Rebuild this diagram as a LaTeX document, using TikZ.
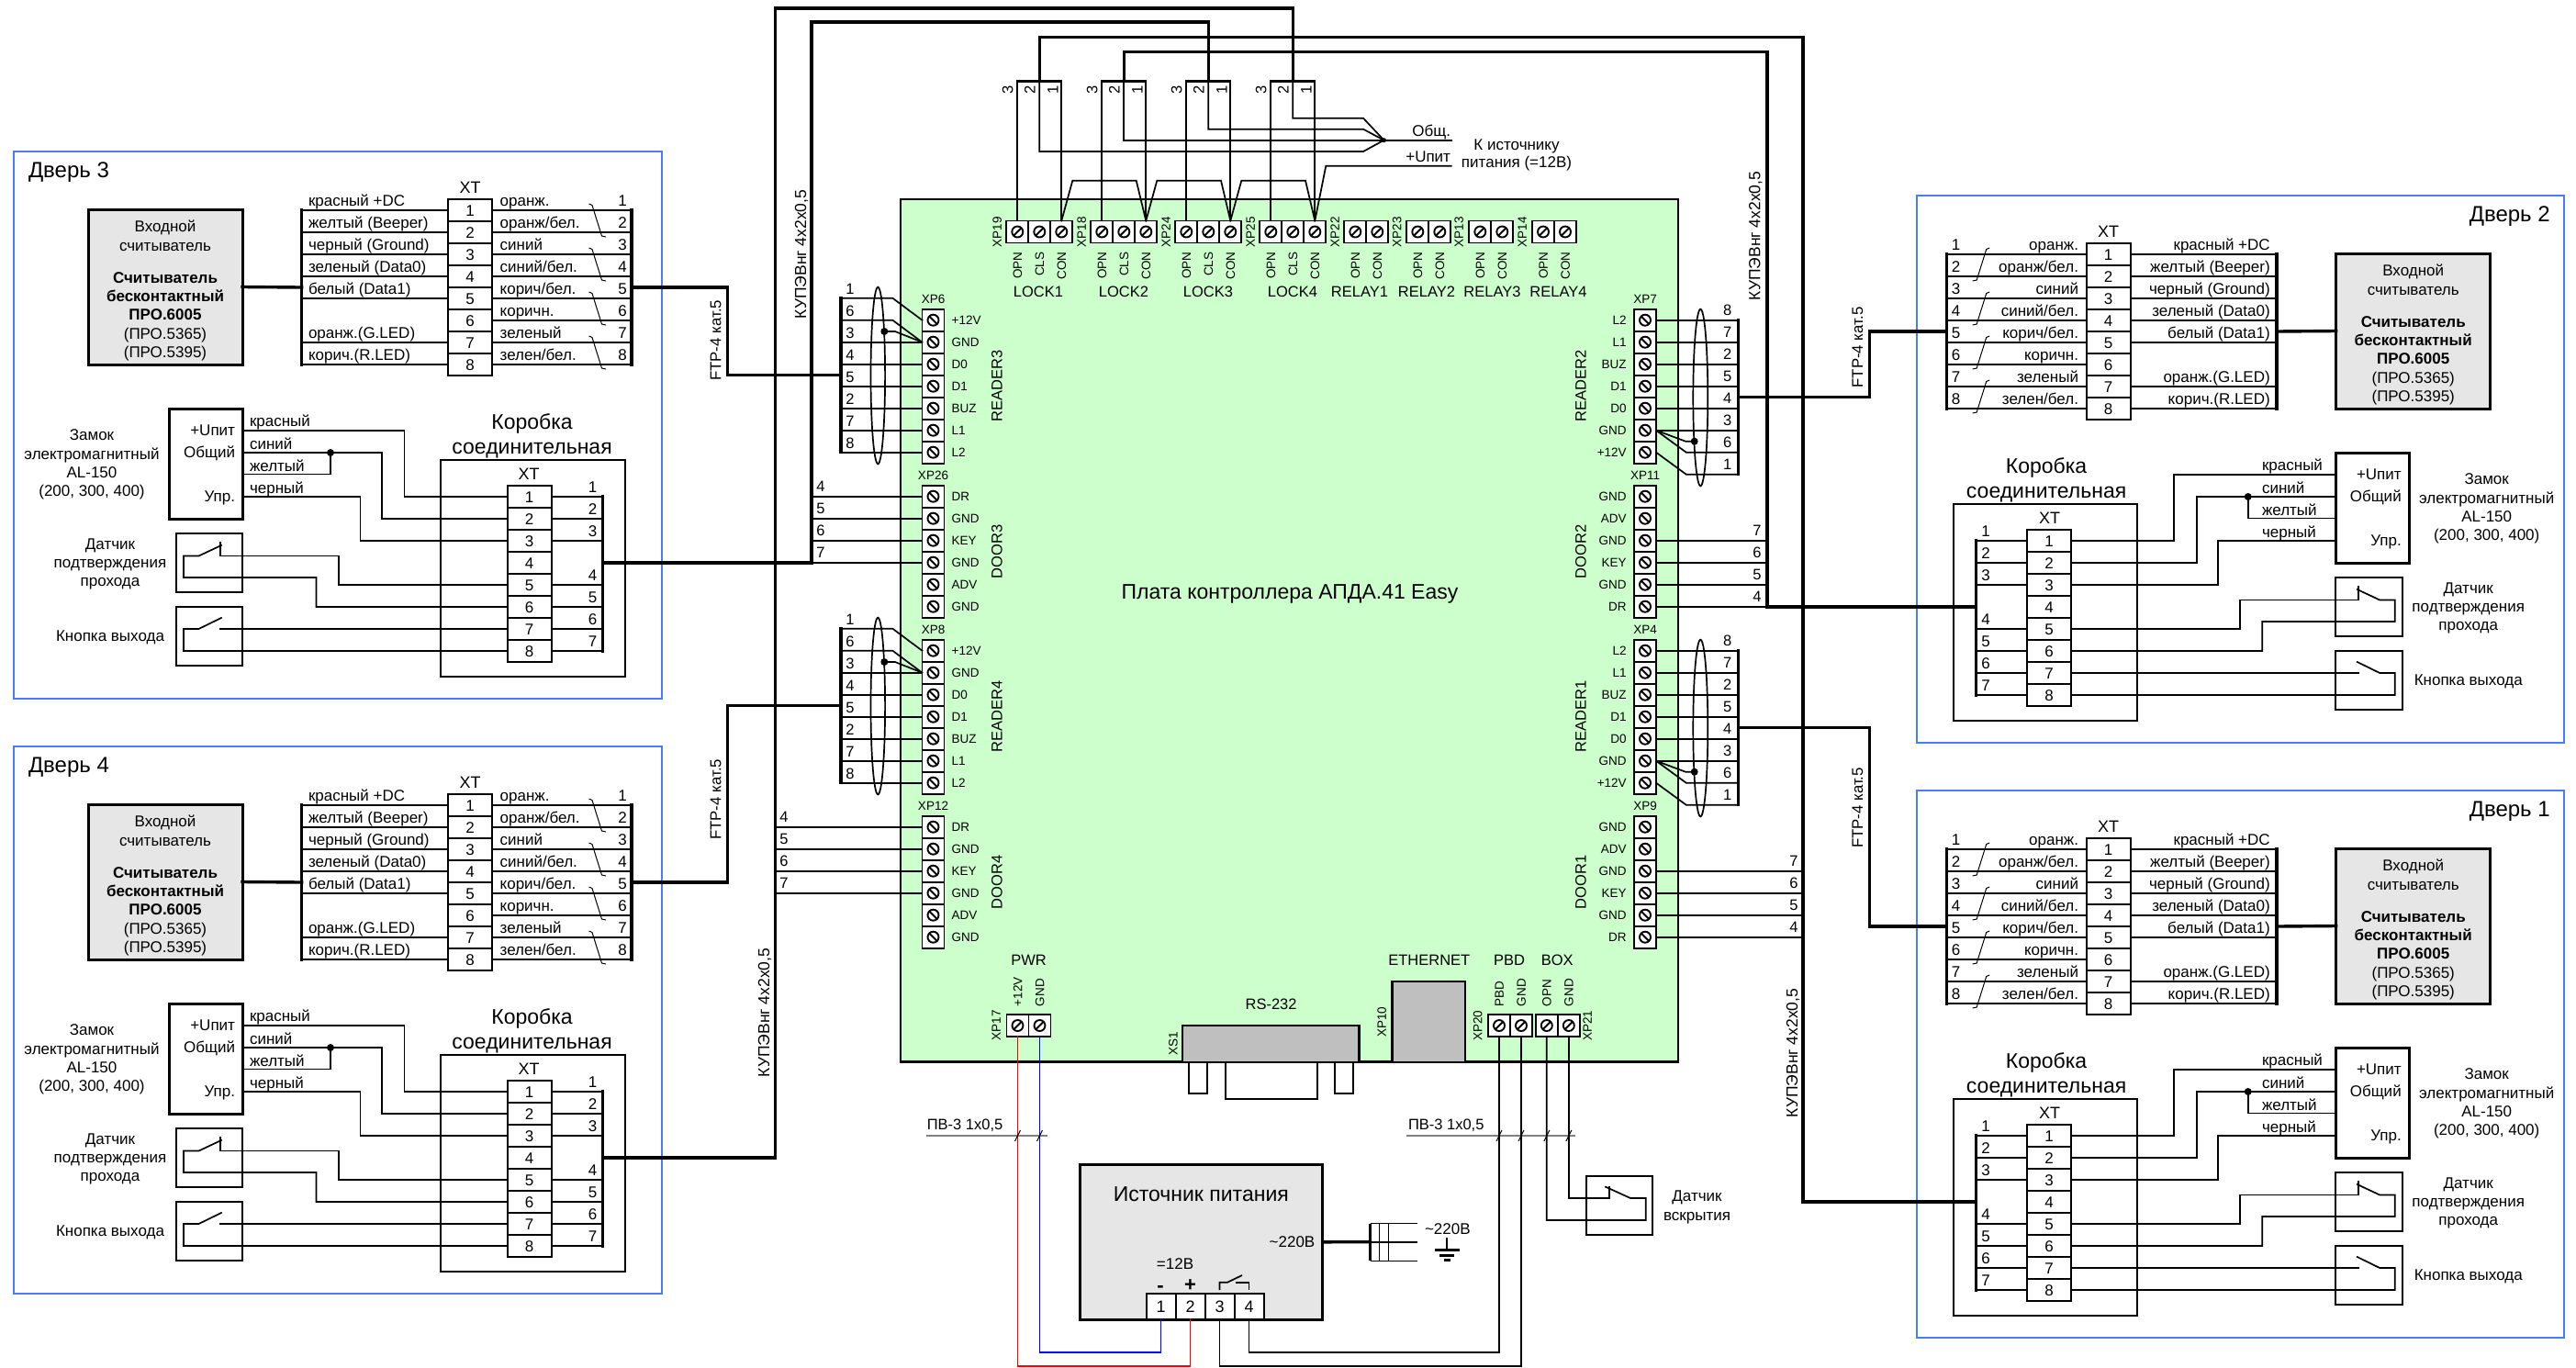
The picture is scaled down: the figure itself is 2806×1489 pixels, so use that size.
\documentclass[tikz,border=0pt]{standalone}
\usepackage{fontspec}
\setmainfont{Liberation Sans}
\definecolor{boardg}{HTML}{CCFFCC}
\definecolor{boxg}{HTML}{E6E6E6}
\definecolor{compg}{HTML}{BFBFBF}
\definecolor{frameb}{HTML}{4A7BFF}
\newcounter{nn}
\tikzset{
 autoname/.code={\stepcounter{nn}\tikzset{name=tx\arabic{nn}}},
 fs/.style={autoname,font=\fontsize{#1pt}{#1pt}\selectfont,inner sep=0pt,outer sep=0pt,text height={0.72*#1pt},text depth=0pt},
 wire/.style={line width=1.7pt,line join=miter,line cap=rect},
 cable/.style={line width=3.4pt,line join=miter,line cap=rect},
 twist/.style={line width=1pt},
 doorframe/.style={draw=frameb,line width=2pt},
 rdbox/.style={draw,line width=3pt,fill=boxg,inner sep=0pt,outer sep=0pt},
 plainbox/.style={draw,line width=3pt,inner sep=0pt,outer sep=0pt},
 thinbox/.style={draw,line width=2pt,inner sep=0pt,outer sep=0pt},
 xtcell/.style={draw,line width=1.8pt,fill=white,minimum width=48pt,minimum height=24pt,inner sep=0pt,outer sep=0pt,font=\fontsize{17pt}{17pt}\selectfont,text height=12.2pt,text depth=0pt},
 cellv/.style={draw,line width=1.8pt,fill=white,minimum size=24pt,inner sep=0pt,outer sep=0pt,
   path picture={\draw[line width=1.9pt] (path picture bounding box.center) circle (6);
     \draw[line width=1.9pt] ([shift={(-4.3pt,4.3pt)}]path picture bounding box.center) -- ([shift={(4.3pt,-4.3pt)}]path picture bounding box.center);}},
 cellh/.style={draw,line width=1.8pt,fill=white,minimum size=24pt,inner sep=0pt,outer sep=0pt,
   path picture={\draw[line width=1.9pt] (path picture bounding box.center) circle (6);
     \draw[line width=1.9pt] ([shift={(-4.3pt,-4.3pt)}]path picture bounding box.center) -- ([shift={(4.3pt,4.3pt)}]path picture bounding box.center);}},
 dot/.style={circle,fill=black,inner sep=0pt,minimum size=8pt},
 psucell/.style={draw,line width=1.8pt,fill=white,minimum width=32pt,minimum height=28pt,inner sep=0pt,outer sep=0pt,font=\fontsize{18pt}{18pt}\selectfont,text height=13pt,text depth=0pt},
 bareline/.style={draw=gray,line width=1.6pt},
 tick/.style={line width=1pt},
 compbox/.style={draw,line width=2.5pt,fill=compg,inner sep=0pt,outer sep=0pt},
}
% vertical terminal: name, xc, y of first cell, labels, label anchor, label x
\newcommand\vterm[6]{%
 \foreach \lab [count=\i] in {#4} {
  \node[cellv] (#1-\i) at (#2,{#3+24*(\i-1)}) {};
  \node[fs=13.5,anchor=#5] at (#6,{#3+24*(\i-1)}) {\lab};
 }}
% horizontal terminal: name, x of first cell, labels
\newcommand\hterm[3]{%
 \foreach \lab [count=\i] in {#3} {
  \node[cellh] (#1-\i) at ({#2+24*(\i-1)},252.5) {};
  \node[fs=13.5,rotate=90,anchor=east] at ({#2+24*(\i-1)},274.5) {\lab};
 }}
% reader wiring on the left side of the board: name, y offset
\newcommand\readerL[2]{%
 \begin{scope}[shift={(0,#2)}]
 \vterm{#1}{1016.5}{348.7}{+12V,GND,D0,D1,BUZ,L1,L2}{west}{1036.7}
 \draw[cable] (916,324.7) -- (916,492.7);
 \coordinate (#1bus) at (916,408.7);
 \draw[wire] (916,324.7) -- (972.3,324.7) -- (#1-1.west);
 \draw[wire] (916,348.7) -- (972.3,348.7) -- (#1-2.west);
 \draw[wire] (916,372.7) -- (#1-2.west);
 \draw[wire] (#1-3.west) -- (916,396.7);
 \draw[wire] (#1-4.west) -- (916,420.7);
 \draw[wire] (#1-5.west) -- (916,444.7);
 \draw[wire] (#1-6.west) -- (916,468.7);
 \draw[wire] (#1-7.west) -- (916,492.7);
 \node[dot] (#1-d) at (963.3,361) {};
 \draw[line width=1.7pt] (#1-d.center) -- (975,361) -- (#1-2.west);
 \draw[line width=1.7pt] (956.3,409) ellipse (7.8 and 96.3);
 \foreach \t [count=\i] in {1,6,3,4,5,2,7,8} {\node[fs=16.5] at (926,{315+24*(\i-1)}) {\t};}
 \end{scope}}
\newcommand\readerR[2]{%
 \begin{scope}[shift={(0,#2)}]
 \vterm{#1}{1792}{348.7}{L2,L1,BUZ,D1,D0,GND,+12V}{east}{1771.7}
 \draw[cable] (1893.3,348.7) -- (1893.3,516.7);
 \coordinate (#1bus) at (1893.3,432.7);
 \draw[wire] (#1-1.east) -- (1893.3,348.7);
 \draw[wire] (#1-2.east) -- (1893.3,372.7);
 \draw[wire] (#1-3.east) -- (1893.3,396.7);
 \draw[wire] (#1-4.east) -- (1893.3,420.7);
 \draw[wire] (#1-5.east) -- (1893.3,444.7);
 \draw[wire] (#1-6.east) -- (1893.3,468.7);
 \draw[wire] (#1-6.east) -- (1836.7,492.7) -- (1893.3,492.7);
 \draw[wire] (#1-7.east) -- (1836.7,516.7) -- (1893.3,516.7);
 \node[dot] (#1-d) at (1845.7,480.7) {};
 \draw[line width=1.7pt] (#1-6.east) -- (1836,480.7) -- (#1-d.center);
 \draw[line width=1.7pt] (1852.3,433) ellipse (8 and 96.3);
 \foreach \t [count=\i] in {8,7,2,5,4,3,6,1} {\node[fs=16.5] at (1881.7,{338+24*(\i-1)}) {\t};}
 \end{scope}}
% door block: prefix, title, ox, oy, xscale, near anchor, far anchor, lock text x, wire label x
\newcommand\doorblock[9]{%
 \begin{scope}[shift={(#3,#4)},xscale=#5]
 \draw[doorframe] (15.4,165) rectangle (720.7,761);
 \node[fs=24,anchor=#6] at (31,185) {#2};
 \node[rdbox,minimum width=168pt,minimum height=169pt] (#1rd) at (180,312.5) {};
 \foreach \t/\y in {Входной/246.4,считыватель/267,{(ПРО.5365)}/363,{(ПРО.5395)}/383} {\node[fs=17] at (180,\y) {\t};}
 \foreach \t/\y in {Считыватель/302.8,бесконтактный/322.6,ПРО.6005/342} {\node[fs=17,font=\fontsize{17pt}{17pt}\selectfont\bfseries] at (180,\y) {\t};}
 \node[fs=18] at (512,204) {XT};
 \foreach \i in {1,...,8} {\node[xtcell] (#1a\i) at (512,{229+24*(\i-1)}) {\i};}
 \foreach \i in {1,2,3,4,5,7,8} {\draw[wire] (#1a\i.#6) -- (328.7,{229+24*(\i-1)});}
 \foreach \i in {1,...,8} {\draw[wire] (#1a\i.#7) -- (688,{229+24*(\i-1)});}
 \draw[cable] (328.7,229) -- (328.7,397);
 \draw[cable] (688,229) -- (688,397);
 \coordinate (#1lb) at (328.7,313);
 \coordinate (#1rb) at (688,313);
 \draw[cable] (#1rd.#7) -- (#1lb);
 \foreach \t [count=\i] in {красный +DC,желтый (Beeper),черный (Ground),зеленый (Data0),белый (Data1)} {\node[fs=17,anchor=#6] at (336,{218+24*(\i-1)}) {\t};}
 \node[fs=17,anchor=#6] at (336,362) {оранж.(G.LED)};
 \node[fs=17,anchor=#6] at (336,386) {корич.(R.LED)};
 \foreach \t [count=\i] in {оранж.,оранж/бел.,синий,синий/бел.,корич/бел.,коричн.,зеленый,зелен/бел.} {\node[fs=17,anchor=#6] at (544.7,{218+24*(\i-1)}) {\t};
   \node[fs=17] at (678,{218+24*(\i-1)}) {\i};}
 \foreach \y in {222,270,318,366} {\draw[twist] (641.5,\y) -- (645,\y+1.5) -- (655.5,\y+35) -- (660,\y+36);}
 % lock
 \node[plainbox,minimum width=80pt,minimum height=120pt] (#1lk) at (224.4,505) {};
 \node[fs=17,anchor=east] at (#8,468.6) {+Uпит};
 \node[fs=17,anchor=east] at (#8,492.7) {Общий};
 \node[fs=17,anchor=east] at (#8,540.5) {Упр.};
 \foreach \t/\y in {красный/458.8,синий/483,желтый/507,черный/531} {\node[fs=17,anchor=west] at (#9,\y) {\t};}
 \foreach \t/\y in {Замок/473,электромагнитный/494.6,AL-150/514,{(200, 300, 400)}/534} {\node[fs=17] at (100,\y) {\t};}
 \coordinate (#1p1) at (264.4,469);
 \coordinate (#1p2) at (264.4,493);
 \coordinate (#1p4) at (264.4,516.5);
 \coordinate (#1p3) at (264.4,541);
 % junction box
 \draw[line width=2pt] (480.4,501) rectangle (680.6,736.6);
 \node[fs=23] at (579.6,459) {Коробка};
 \node[fs=23] at (579.6,486) {соединительная};
 \node[fs=18] at (576,516) {XT};
 \foreach \i in {1,...,8} {\node[xtcell] (#1b\i) at (576.6,{541+24*(\i-1)}) {\i};}
 \foreach \i in {1,2,3,5,6,7,8} {\draw[wire] (#1b\i.#7) -- (656.4,{541+24*(\i-1)});}
 \draw[cable] (656.4,541) -- (656.4,709);
 \coordinate (#1jb) at (656.4,613);
 \foreach \t/\y in {1/530,2/554,3/578,4/626,5/650,6/674,7/698} {\node[fs=17] at (645.7,\y) {\t};}
 \draw[wire] (#1p1) -| (440.4,541) -- (#1b1.#6);
 \draw[wire] (#1p2) -| (416,565) -- (#1b2.#6);
 \draw[wire] (#1p3) -| (392.5,589) -- (#1b3.#6);
 \node[dot] (#1d) at (360,493) {};
 \draw[wire] (#1p4) -| (#1d.center);
 % sensors
 \node[thinbox,minimum width=72.6pt,minimum height=64pt] (#1s1) at (228.1,613) {};
 \node[thinbox,minimum width=72.6pt,minimum height=64pt] (#1s2) at (228.1,693) {};
 \foreach \t/\y in {Датчик/592.7,подтверждения/612.5,прохода/632.8,Кнопка выхода/692.3} {\node[fs=17] at (120,\y) {\t};}
 \draw[wire] (240,591) -- (240,605.5) -- (368.7,605.5) -- (368.7,637) -- (#1b5.#6);
 \draw[wire] (241,594) -- (216.5,605.5) -- (200,605.5) -- (200,629) -- (344.5,629) -- (344.5,661) -- (#1b6.#6);
 \draw[wire] (241,673) -- (216.5,685) -- (200,685) -- (200,709) -- (#1b8.#6);
 \draw[wire] (240,685) -- (#1b7.#6);
 \end{scope}}
\begin{document}
\begin{tikzpicture}[x=1pt,y=-1pt]
\useasboundingbox (0,0) rectangle (2806,1489);
\fill[white] (0,0) rectangle (2806,1489);
% board
\node[draw,fill=boardg,line width=2pt,minimum width=847pt,minimum height=940pt,inner sep=0pt,outer sep=0pt] (board) at (1404.5,686.7) {};
\draw[line width=3pt] (board.south west) -- (board.south east);
\node[fs=23] at (1405,644) {Плата контроллера АПДА.41 Easy};
% doors
\doorblock{dA}{Дверь 3}{0}{0}{1}{west}{east}{256}{272}
\doorblock{dB}{Дверь 4}{0}{648}{1}{west}{east}{256}{272}
\doorblock{dC}{Дверь 2}{2808.7}{48}{-1}{east}{west}{193}{344.7}
\doorblock{dD}{Дверь 1}{2808.7}{696}{-1}{east}{west}{193}{344.7}
% board terminals, readers
\readerL{xpA}{0}
\readerL{xpB}{360}
\readerR{xpC}{0}
\readerR{xpD}{360}
\foreach \t/\x/\y in {XP6/1016.5/326,XP8/1016.5/686,XP26/1016.5/518,XP12/1016.5/878,XP7/1792/326,XP4/1792/686,XP11/1792/518,XP9/1792/878} {\node[fs=13.5] at (\x,\y) {\t};}
\foreach \t/\x/\y in {READER3/1085.7/420.7,DOOR3/1085.7/600.7,READER4/1085.7/780.7,DOOR4/1085.7/960.7,READER2/1721.7/420.7,DOOR2/1721.7/600.7,READER1/1721.7/780.7,DOOR1/1721.7/960.7} {\node[fs=16.5,rotate=90] at (\x,\y) {\t};}
% door terminals
\vterm{xpE}{1016.5}{540.7}{DR,GND,KEY,GND,ADV,GND}{west}{1036.7}
\vterm{xpF}{1016.5}{900.7}{DR,GND,KEY,GND,ADV,GND}{west}{1036.7}
\vterm{xpG}{1792}{540.7}{GND,ADV,GND,KEY,GND,DR}{east}{1771.7}
\vterm{xpH}{1792}{900.7}{GND,ADV,GND,KEY,GND,DR}{east}{1771.7}
\foreach \i/\y in {1/540.7,2/564.7,3/588.7,4/612.7} {
  \draw[wire] (xpE-\i.west) -- (884,\y);
  \draw[wire] (xpF-\i.west) -- (844.3,\y+360);
}
\foreach \i/\y in {3/588.7,4/612.7,5/636.7,6/660.7} {
  \draw[wire] (xpG-\i.east) -- (1925,\y);
  \draw[wire] (xpH-\i.east) -- (1964,\y+360);
}
\foreach \t/\y in {4/530,5/554,6/578,7/602} {
  \node[fs=16.5] at (894,\y) {\t};
  \node[fs=16.5] at (854,\y+360) {\t};
}
\foreach \t/\y in {7/578,6/602,5/626,4/650} {
  \node[fs=16.5] at (1914,\y) {\t};
  \node[fs=16.5] at (1954,\y+360) {\t};
}
% top terminals
\hterm{xpa}{1108.3}{OPN,CLS,CON}
\hterm{xpb}{1200.3}{OPN,CLS,CON}
\hterm{xpc}{1292.3}{OPN,CLS,CON}
\hterm{xpd}{1384.3}{OPN,CLS,CON}
\hterm{xpe}{1476.3}{OPN,CON}
\hterm{xpf}{1544.3}{OPN,CON}
\hterm{xpg}{1612.3}{OPN,CON}
\hterm{xph}{1681}{OPN,CON}
\foreach \t/\x in {XP19/1086,XP18/1178,XP24/1270,XP25/1362,XP22/1454,XP23/1521.5,XP13/1589,XP14/1658} {\node[fs=13.5,rotate=90] at (\x,252.7) {\t};}
\foreach \t/\x in {LOCK1/1131,LOCK2/1224,LOCK3/1316,LOCK4/1408,RELAY1/1481,RELAY2/1554,RELAY3/1625.5,RELAY4/1697.5} {\node[fs=16.5] at (\x,318) {\t};}
% lock wiring
\coordinate (barA) at (1132.3,88.3);
\coordinate (barB) at (1224.3,88.3);
\coordinate (barC) at (1316.3,88.3);
\coordinate (barD) at (1408.3,88.3);
\foreach \b/\n in {barA/xpa,barB/xpb,barC/xpc,barD/xpd} {
  \draw[cable,line cap=butt] ([xshift=-24.5pt]\b) -- ([xshift=24.5pt]\b);
  \draw[wire] (\n-1.north) -- (\n-1.north |- \b);
  \draw[wire] (\n-3.north) -- (\n-3.north |- \b);
  \node[fs=16.5,rotate=90] at ([shift={(-35,10)}]\b) {3};
  \node[fs=16.5,rotate=90] at ([shift={(-10.6,10)}]\b) {2};
  \node[fs=16.5,rotate=90] at ([shift={(14.4,10)}]\b) {1};
}
\node[dot,minimum size=5pt] (hub) at (1507.5,152.7) {};
\coordinate (comend) at (1580.8,152.7);
\coordinate (upend) at (1580.8,180.7);
\draw[wire] (barA) -- (1132.3,165) -- (1485,165) -- (hub.center);
\draw[wire] (barB) -- (1224.3,152.7) -- (hub.center);
\draw[wire] (barC) -- (1316.3,140.7) -- (1485,140.7) -- (hub.center);
\draw[wire] (barD) -- (1408.3,128.7) -- (1485,128.7) -- (hub.center);
\draw[wire] (hub.center) -- (comend);
\draw[wire] (xpa-3.north) -- (1168.3,196.7) -- (1237.7,196.7) -- (xpb-3.north);
\draw[wire] (xpb-3.north) -- (1260.3,196.7) -- (1330,196.7) -- (xpc-3.north);
\draw[wire] (xpc-3.north) -- (1352.3,196.7) -- (1422,196.7) -- (xpd-3.north);
\draw[wire] (xpd-3.north) -- (1444.3,180.7) -- (upend);
\node[fs=17,anchor=east] at (1580,142.7) {Общ.};
\node[fs=17,anchor=east] at (1580,170.7) {+Uпит};
\node[fs=17] at (1652,157) {К источнику};
\node[fs=17] at (1652,176.7) {питания (=12В)};
% long cables
\draw[cable] (barD) |- (844.3,9) |- (dBjb);
\draw[cable] (barC) |- (884,24) |- (dAjb);
\draw[cable] (barB) |- (1925,56.7) |- (dCjb);
\draw[cable] (barA) |- (1964,40.7) |- (dDjb);
\draw[cable] (dArb) -- (792.3,313) -- (792.3,408.7) -- (xpAbus);
\draw[cable] (dBrb) -- (792.3,961) -- (792.3,768.7) -- (xpBbus);
\draw[cable] (xpCbus) -- (2036.7,432.7) -- (2036.7,361) -- (dCrb);
\draw[cable] (xpDbus) -- (2036.7,792.7) -- (2036.7,1009) -- (dDrb);
\foreach \x/\y in {871.7/277,831.7/1103,1911/257,1951.7/1147} {\node[fs=17.5,rotate=90] at (\x,\y) {КУПЭВнг 4x2x0,5};}
\foreach \x/\y in {779.3/370.8,779.3/870.8,2023/378.5,2023/880} {\node[fs=16.8,rotate=90] at (\x,\y) {FTP-4 кат.5};}
% bottom of board
\node[fs=16.5] at (1120.5,1046) {PWR};
\node[fs=16.5] at (1556.8,1046) {ETHERNET};
\node[fs=16.5] at (1644,1046) {PBD};
\node[fs=16.5] at (1696.3,1046) {BOX};
\foreach \n/\x/\t in {xpP/1108.5/+12V,xpQ/1132.5/GND,xpR/1633/PBD,xpS/1657/GND,xpT/1684.8/OPN,xpU/1708.8/GND} {
  \node[cellh] (\n) at (\x,1117) {};
  \node[fs=13.5,rotate=90,anchor=west] at (\x,1096) {\t};
}
\foreach \t/\x/\y in {XP17/1085/1116.7,XS1/1277.8/1136.7,XP10/1505/1113,XP20/1609.6/1117,XP21/1729/1117} {\node[fs=13.5,rotate=90] at (\x,\y) {\t};}
\node[fs=16.5] at (1384.6,1094) {RS-232};
\node[compbox,minimum width=192.5pt,minimum height=39.7pt] (rs) at (1384.2,1136.9) {};
\draw[line width=2pt] (1295,1156.7) rectangle (1315,1190.7);
\draw[line width=2pt] (1334.7,1156.7) rectangle (1434.6,1196.7);
\draw[line width=2pt] (1454,1156.7) rectangle (1474,1190.7);
\node[compbox,minimum width=79.3pt,minimum height=87.7pt] (eth) at (1556.2,1112.9) {};
% bare cable lines
\draw[bareline] (1008.6,1237) -- (1140.6,1237);
\draw[bareline] (1532,1237) -- (1716.4,1237);
\node[fs=16.5,anchor=west] at (1009.8,1224.3) {ПВ-3 1x0,5};
\node[fs=16.5,anchor=west] at (1534,1224.3) {ПВ-3 1x0,5};
% power supply
\node[rdbox,minimum width=264.7pt,minimum height=169pt] (psu) at (1308.5,1352.8) {};
\node[fs=23] at (1308.3,1300) {Источник питания};
\foreach \i/\x in {1/1264.6,2/1296.6,3/1328.6,4/1360.6} {\node[psucell] (pt\i) at (\x,1423) {\i};}
\node[fs=17] at (1280,1376) {=12В};
\node[fs=22,font=\fontsize{22pt}{22pt}\selectfont\bfseries] at (1264,1400) {-};
\node[fs=22,font=\fontsize{22pt}{22pt}\selectfont\bfseries] at (1296.6,1399) {+};
\draw[line width=1.7pt] (1328.4,1405) -- (1328.4,1396.7) -- (1337,1396.7) -- (1353,1389);
\draw[line width=1.7pt] (1360.5,1405) -- (1360.5,1396.7) -- (1346,1396.7);
\node[fs=17,anchor=east] at (1432.3,1352.3) {\char"007E 220В};
% supply wiring
\draw[wire,red] (xpP.south) |- (1296.6,1488) -- (pt2.south);
\draw[wire,blue] (xpQ.south) |- (1264.6,1472.7) -- (pt1.south);
\draw[wire] (xpR.south) |- (1360.6,1472.7) -- (pt4.south);
\draw[wire] (xpS.south) |- (1328.6,1488) -- (pt3.south);
% box sensor
\node[thinbox,minimum width=71.5pt,minimum height=64pt] (boxs) at (1764.2,1313) {};
\draw[wire] (xpT.south) |- (1792.8,1329) -- (1792.8,1305) -- (1776,1305) -- (1749,1292.7);
\draw[wire] (xpU.south) |- (1753.2,1305) -- (1753.2,1292.7);
\node[fs=17] at (1848.5,1302.7) {Датчик};
\node[fs=17] at (1848.5,1323) {вскрытия};
% ticks
\foreach \x in {1108.5,1132.5,1633,1657,1684.8,1708.8} {\draw[tick] (\x-3,1243) -- (\x+3,1231);}
% mains plug
\coordinate (plug) at (1492.5,1352.7);
\draw[cable] (psu.east) -- (plug);
\draw[line width=3pt] (1492.5,1332.7) -- (1492.5,1373.3);
\foreach \y in {1332.7,1353,1373.3} {\draw[line width=1.4pt] (1492.5,\y) -- (1544.2,\y);}
\foreach \x in {1502.3,1512} {\draw[line width=1pt] (\x,1332.7) -- (\x,1373.3);}
\node[fs=17,anchor=west] at (1552,1338) {\char"007E 220В};
\draw[line width=1.7pt] (1576.3,1348.3) -- (1576.3,1361);
\draw[line width=3pt] (1563,1361.3) -- (1589.6,1361.3);
\draw[line width=3pt] (1568.3,1367.3) -- (1584.4,1367.3);
\draw[line width=3pt] (1573,1372.7) -- (1580,1372.7);
\end{tikzpicture}
\end{document}
